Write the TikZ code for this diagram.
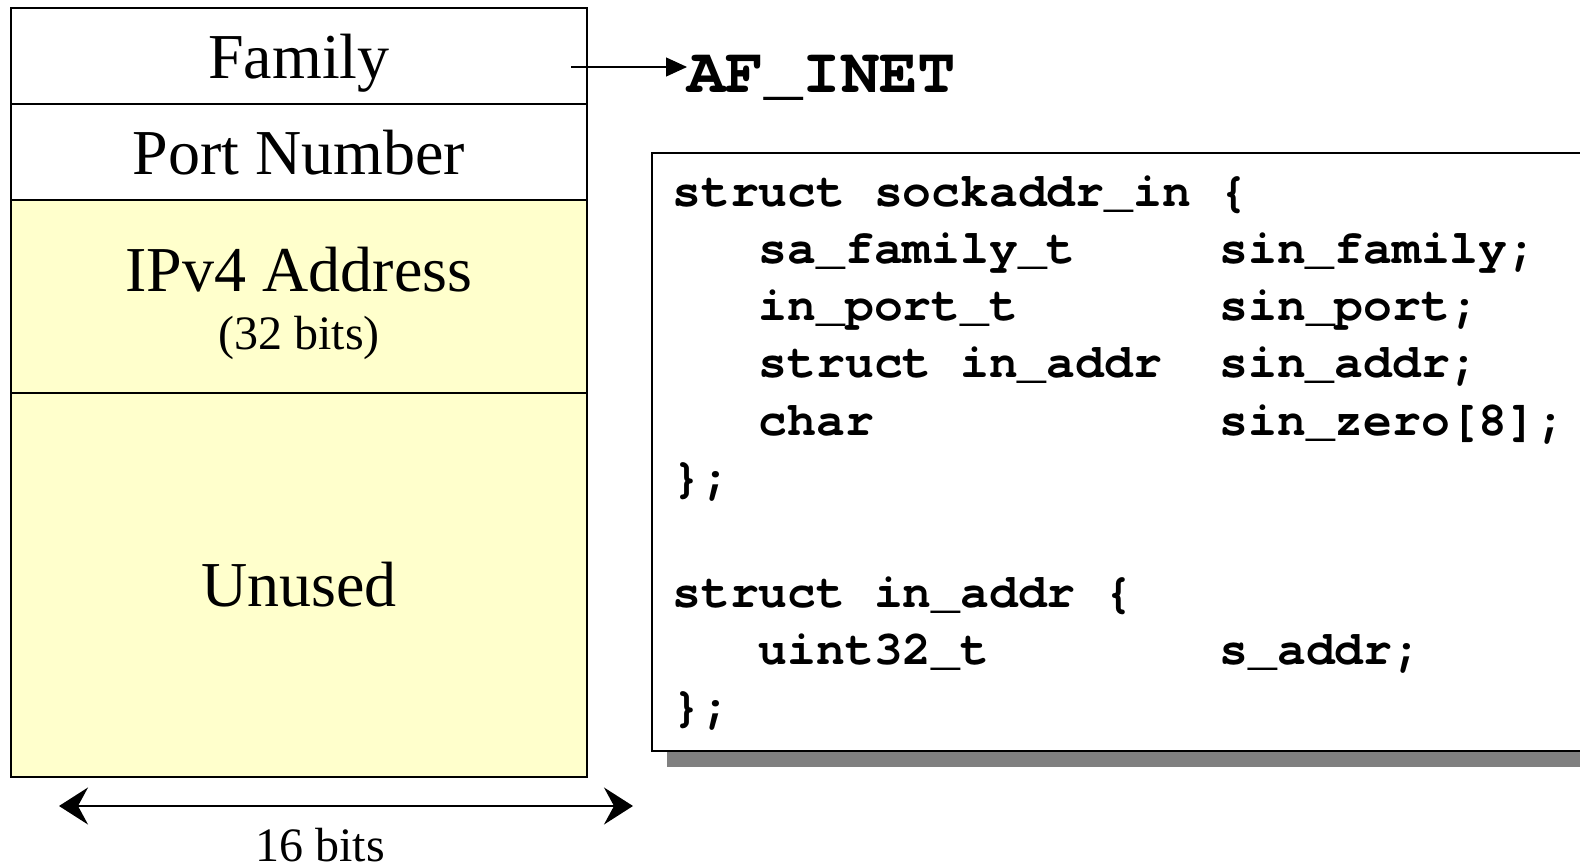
\documentclass[tikz,border=0pt]{standalone}
\usepackage{fontspec}
\setmainfont{Liberation Serif}
\newfontfamily\codefont{texgyrecursor}[Extension=.otf,UprightFont=*-regular,BoldFont=*-bold]
\usetikzlibrary{arrows.meta,shadows}
\definecolor{fieldyellow}{HTML}{FFFFCC}
\definecolor{shadowgray}{HTML}{808080}

\begin{document}
\begin{tikzpicture}
[x=0.5pt,y=-0.5pt,
field/.style={rectangle,draw=black,line width=1pt,minimum width=288pt,inner sep=0pt,outer sep=0pt,text height=22pt,text depth=0pt,font=\fontsize{32}{38}\selectfont},
spare/.style={field,fill=fieldyellow},
codeline/.style={anchor=base west,inner sep=0pt,font=\codefont\bfseries\fontsize{24}{28}\selectfont},
plain/.style={anchor=base,inner sep=0pt},
]
\useasboundingbox (0,0) rectangle (1580,866);
\clip (0,0) rectangle (1580,866);

\node [field,minimum height=48pt] (fam) at (299,56.5){Family};
\node [field,minimum height=48pt] (port) at (299,152.5){Port Number};
\node [spare,minimum height=96pt] (addr) at (299,296.5){};
\node [spare,minimum height=192pt] (unused) at (299,584.5){Unused};
\node [plain,font=\fontsize{32}{38}\selectfont] (addrname) at (299,292){IPv4 Address};
\node [plain,font=\fontsize{24}{28}\selectfont] (addrbits) at (299,350){(32 bits)};

\coordinate (famtap) at (571,67);
\node [codeline,font=\codefont\bfseries\fontsize{32}{38}\selectfont] (afinet) at (687,93){AF\_INET};
\draw[-{Triangle[length=10.5pt,width=9.5pt]},line width=0.6pt] (famtap) -- (famtap -| afinet.west);

\node [rectangle,draw=black,line width=1pt,fill=white,minimum width=474pt,minimum height=299pt,
  drop shadow={shadow xshift=7.5pt,shadow yshift=-8pt,fill=shadowgray,opacity=1}] (codebox) at (1126,452){};
\node [codeline] (l1) at (672,207){struct sockaddr\_in \{};
\node [codeline] (l2) at (672,264){~~~sa\_family\_t~~~~~sin\_family;};
\node [codeline] (l3) at (672,321){~~~in\_port\_t~~~~~~~sin\_port;};
\node [codeline] (l4) at (672,378){~~~struct in\_addr~~sin\_addr;};
\node [codeline] (l5) at (672,435){~~~char~~~~~~~~~~~~sin\_zero[8];};
\node [codeline] (l6) at (672,492){\};};
\node [codeline] (l7) at (672,607){struct in\_addr \{};
\node [codeline] (l8) at (672,664){~~~uint32\_t~~~~~~~~s\_addr;};
\node [codeline] (l9) at (672,721){\};};

\coordinate (wleft) at (59,806);
\coordinate (wright) at (633,806);
\draw[{Stealth[length=14.5pt,width=18.5pt,inset=5pt]}-{Stealth[length=14.5pt,width=18.5pt,inset=5pt]},line width=1pt] (wleft) -- (wright);
\node [plain,font=\fontsize{24}{28}\selectfont] (bitwidth) at (320,861){16 bits};
\end{tikzpicture}
\end{document}
